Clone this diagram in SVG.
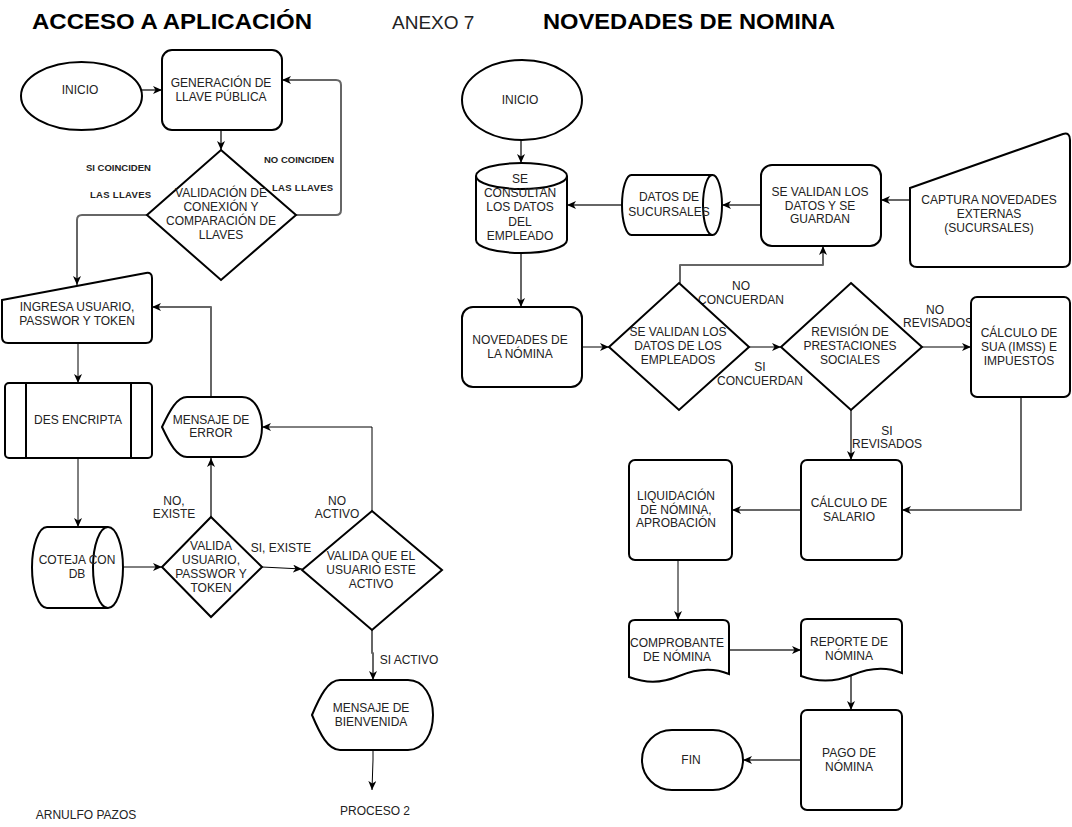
<svg xmlns="http://www.w3.org/2000/svg" width="1072" height="827" viewBox="0 0 1072 827">
<defs>
<marker id="ar" markerUnits="userSpaceOnUse" markerWidth="10" markerHeight="8" refX="9" refY="4" orient="auto">
<path d="M0,0 L9,4 L0,8 L2.5,4 Z" fill="#000"/>
</marker>
</defs>
<style>
.n{fill:#fff;stroke:#000;stroke-width:2;}
.t{font-family:"Liberation Sans",Arial,sans-serif;font-size:12px;fill:#222;text-anchor:middle;}
.l{font-family:"Liberation Sans",Arial,sans-serif;font-size:12px;fill:#222;text-anchor:middle;}
.b{font-family:"Liberation Sans",Arial,sans-serif;font-size:9.5px;font-weight:bold;fill:#222;}
.h{font-family:"Liberation Sans",Arial,sans-serif;font-weight:bold;font-size:22px;fill:#000;}
.c1{fill:none;stroke:#000;stroke-width:1;marker-end:url(#ar);}
.c2{fill:none;stroke:#666;stroke-width:2;stroke-linejoin:round;marker-end:url(#ar);}
</style>
<rect width="1072" height="827" fill="#fff"/>

<g id="titles">
<text class="h" x="32" y="29" textLength="280" lengthAdjust="spacingAndGlyphs">ACCESO A APLICACIÓN</text>
<text x="392" y="29" font-family="Liberation Sans, Arial, sans-serif" font-size="19" fill="#222">ANEXO 7</text>
<text class="h" x="543" y="29" textLength="292" lengthAdjust="spacingAndGlyphs">NOVEDADES DE NOMINA</text>
</g>

<g id="connectors">
<!-- left -->
<path class="c2" d="M142,90 L162,90"/>
<path class="c2" d="M221,130 L221,150"/>
<path class="c2" d="M296,215 L336,215 Q341,215 341,210 L341,85 Q341,80 336,80 L282,80"/>
<path class="c2" d="M147,215 L82,215 Q77,215 77,220 L77,285"/>
<path class="c1" d="M78,343 L78,383"/>
<path class="c1" d="M78,458 L78,527"/>
<path class="c1" d="M123,567 L162,567"/>
<path class="c1" d="M262,567 L302,569"/>
<path class="c2" d="M211,517 L211,458"/>
<path class="c2" d="M211,397 L211,307 L152,307"/>
<path class="c1" d="M372,511 L372,427 L262,427"/>
<path class="c2" d="M372,630 L372,653 L373,653 L373,680"/>
<path class="c1" d="M373,750 L373,760 L372,790"/>
<!-- right -->
<path class="c2" d="M521,140 L521,163"/>
<path class="c2" d="M622,205 L567,205"/>
<path class="c2" d="M761,205 L722,205"/>
<path class="c2" d="M910,200 L881,200"/>
<path class="c2" d="M521,253 L521,307"/>
<path class="c2" d="M680,283 L680,265 L823,265 L823,246"/>
<path class="c1" d="M582,347 L609,347"/>
<path class="c1" d="M749,347 L781,347"/>
<path class="c1" d="M922,347 L971,347"/>
<path class="c2" d="M851,410 L851,460"/>
<path class="c2" d="M1021,397 L1021,510 L902,510"/>
<path class="c2" d="M801,510 L732,510"/>
<path class="c1" d="M678,560 L678,620"/>
<path class="c2" d="M729,650 L801,650"/>
<path class="c2" d="M851,675 L851,710"/>
<path class="c2" d="M801,760 L743,760"/>
</g>

<g id="labels">
<text class="b" x="86" y="171">SI COINCIDEN</text>
<text class="b" x="90" y="198" letter-spacing="0.3">LAS LLAVES</text>
<text class="b" x="264" y="163">NO COINCIDEN</text>
<text class="b" x="272" y="191" letter-spacing="0.3">LAS LLAVES</text>
<text class="l" x="174" y="505">NO,</text>
<text class="l" x="174" y="518">EXISTE</text>
<text class="l" x="337" y="505">NO</text>
<text class="l" x="337" y="518">ACTIVO</text>
<text class="l" x="281" y="552">SI, EXISTE</text>
<text class="l" x="409" y="664">SI ACTIVO</text>
<text class="l" x="375" y="815">PROCESO 2</text>
<text class="l" x="86" y="819">ARNULFO PAZOS</text>
<text class="l" x="741" y="290">NO</text>
<text class="l" x="741" y="304">CONCUERDAN</text>
<text class="l" x="760" y="371">SI</text>
<text class="l" x="760" y="385">CONCUERDAN</text>
<text class="l" x="935" y="314">NO</text>
<text class="l" x="938" y="327">REVISADOS</text>
<text class="l" x="887" y="435">SI</text>
<text class="l" x="887" y="448">REVISADOS</text>
</g>

<!-- LEFT NODES -->
<g id="inicio1">
<ellipse class="n" cx="81.5" cy="96" rx="60.5" ry="34" stroke-width="1"/>
<text class="t" x="80" y="94">INICIO</text>
</g>
<g id="generacion">
<rect class="n" x="162" y="50" width="120" height="80" rx="10"/>
<text class="t" x="221" y="87">GENERACIÓN DE</text>
<text class="t" x="221" y="101">LLAVE PÚBLICA</text>
</g>
<g id="validacion">
<polygon class="n" points="221,150 296,215 221,280 147,215"/>
<text class="t" x="221" y="197">VALIDACIÓN DE</text>
<text class="t" x="221" y="211">CONEXIÓN Y</text>
<text class="t" x="221" y="225">COMPARACIÓN DE</text>
<text class="t" x="221" y="239">LLAVES</text>
</g>
<g id="ingresa">
<path class="n" d="M2,300 L146,273 Q152,272 152,278 L152,337 Q152,343 146,343 L8,343 Q2,343 2,337 Z"/>
<text class="t" x="77" y="311">INGRESA USUARIO,</text>
<text class="t" x="77" y="325">PASSWOR Y TOKEN</text>
</g>
<g id="desencripta">
<rect class="n" x="5" y="383" width="147" height="75" rx="4"/>
<line x1="26" y1="383" x2="26" y2="458" stroke="#000" stroke-width="2"/>
<line x1="131" y1="383" x2="131" y2="458" stroke="#000" stroke-width="2"/>
<text class="t" x="78" y="424">DES ENCRIPTA</text>
</g>
<g id="coteja">
<path class="n" d="M47,527 L108,527 A15,40.5 0 0 1 108,608 L47,608 A15,40.5 0 0 1 47,527 Z"/>
<path d="M108,527 A15,40.5 0 0 0 108,608" fill="none" stroke="#000" stroke-width="2"/>
<text class="t" x="77" y="564">COTEJA CON</text>
<text class="t" x="77" y="578">DB</text>
</g>
<g id="validausuario">
<polygon class="n" points="211,517 262,567 211,617 162,567"/>
<text class="t" x="211" y="550">VALIDA</text>
<text class="t" x="211" y="564">USUARIO,</text>
<text class="t" x="211" y="578">PASSWOR Y</text>
<text class="t" x="211" y="592">TOKEN</text>
</g>
<g id="validaactivo">
<polygon class="n" points="372,511 442,570 372,630 302,570"/>
<text class="t" x="371" y="560">VALIDA QUE EL</text>
<text class="t" x="371" y="574">USUARIO ESTE</text>
<text class="t" x="371" y="588">ACTIVO</text>
</g>
<g id="error">
<path class="n" d="M162,427 C170,410 177,397 187,397 L242,397 C255,397 262,412 262,427 C262,442 255,457 242,457 L187,457 C177,457 170,444 162,427 Z"/>
<text class="t" x="211" y="424">MENSAJE DE</text>
<text class="t" x="211" y="437">ERROR</text>
</g>
<g id="bienvenida">
<path class="n" d="M312,715 C320,696 328,680 340,680 L408,680 C424,680 433,697 433,715 C433,733 424,750 408,750 L340,750 C328,750 320,734 312,715 Z"/>
<text class="t" x="371" y="712">MENSAJE DE</text>
<text class="t" x="371" y="726">BIENVENIDA</text>
</g>

<!-- RIGHT NODES -->
<g id="inicio2">
<ellipse class="n" cx="522" cy="100" rx="60" ry="40" stroke-width="1"/>
<text class="t" x="520" y="104">INICIO</text>
</g>
<g id="consultan">
<path class="n" d="M476,176 A45.5,13 0 0 1 567,176 L567,240 A45.5,13 0 0 1 476,240 Z"/>
<path d="M476,176 A45.5,13 0 0 0 567,176" fill="none" stroke="#000" stroke-width="2"/>
<text class="t" x="520" y="183">SE</text>
<text class="t" x="520" y="197">CONSULTAN</text>
<text class="t" x="520" y="211">LOS DATOS</text>
<text class="t" x="520" y="226">DEL</text>
<text class="t" x="520" y="240">EMPLEADO</text>
</g>
<g id="sucursales">
<path class="n" d="M631.5,175 L712.5,175 A9.5,30 0 0 1 712.5,235 L631.5,235 A9.5,30 0 0 1 631.5,175 Z"/>
<path d="M712.5,175 A9.5,30 0 0 0 712.5,235" fill="none" stroke="#000" stroke-width="2"/>
<text class="t" x="669" y="201">DATOS DE</text>
<text class="t" x="669" y="216">SUCURSALES</text>
</g>
<g id="sevalidan">
<rect class="n" x="761" y="165" width="120" height="81" rx="11" stroke-width="1.5"/>
<text class="t" x="820" y="196">SE VALIDAN LOS</text>
<text class="t" x="820" y="210">DATOS Y SE</text>
<text class="t" x="820" y="223">GUARDAN</text>
</g>
<g id="captura">
<path class="n" d="M910,188 L1063,134 Q1070,132 1070,140 L1070,260 Q1070,267 1063,267 L917,267 Q910,267 910,260 Z"/>
<text class="t" x="989" y="204">CAPTURA NOVEDADES</text>
<text class="t" x="989" y="218">EXTERNAS</text>
<text class="t" x="989" y="232">(SUCURSALES)</text>
</g>
<g id="novedades">
<rect class="n" x="462" y="307" width="120" height="80" rx="11" stroke-width="1.5"/>
<text class="t" x="520" y="344">NOVEDADES DE</text>
<text class="t" x="520" y="358">LA NÓMINA</text>
</g>
<g id="validanempleados">
<polygon class="n" points="679,283 749,347 679,410 609,347"/>
<text class="t" x="678" y="336">SE VALIDAN LOS</text>
<text class="t" x="678" y="350">DATOS DE LOS</text>
<text class="t" x="678" y="364">EMPLEADOS</text>
</g>
<g id="revision">
<polygon class="n" points="851,283 922,347 851,410 781,347"/>
<text class="t" x="850" y="336">REVISIÓN DE</text>
<text class="t" x="850" y="350">PRESTACIONES</text>
<text class="t" x="850" y="364">SOCIALES</text>
</g>
<g id="sua">
<rect class="n" x="971" y="297" width="99" height="100" rx="6"/>
<text class="t" x="1019" y="337">CÁLCULO DE</text>
<text class="t" x="1019" y="351">SUA (IMSS) E</text>
<text class="t" x="1019" y="365">IMPUESTOS</text>
</g>
<g id="salario">
<rect class="n" x="801" y="460" width="101" height="100" rx="6"/>
<text class="t" x="849" y="507">CÁLCULO DE</text>
<text class="t" x="849" y="521">SALARIO</text>
</g>
<g id="liquidacion">
<rect class="n" x="629" y="460" width="103" height="100" rx="6"/>
<text class="t" x="676" y="500">LIQUIDACIÓN</text>
<text class="t" x="676" y="514">DE NÓMINA,</text>
<text class="t" x="676" y="527">APROBACIÓN</text>
</g>
<g id="comprobante">
<path class="n" d="M635,620 L723,620 Q729,620 729,626 L729,674 C715,668 698,668 679,676 C660,684 645,683 629,677 L629,626 Q629,620 635,620 Z"/>
<text class="t" x="677" y="647">COMPROBANTE</text>
<text class="t" x="677" y="661">DE NÓMINA</text>
</g>
<g id="reporte">
<path class="n" d="M807,619 L896,619 Q902,619 902,625 L902,673 C888,667 871,667 852,675 C833,683 817,682 801,676 L801,625 Q801,619 807,619 Z"/>
<text class="t" x="849" y="646">REPORTE DE</text>
<text class="t" x="849" y="660">NÓMINA</text>
</g>
<g id="pago">
<rect class="n" x="801" y="710" width="101" height="100" rx="6"/>
<text class="t" x="849" y="757">PAGO DE</text>
<text class="t" x="849" y="771">NÓMINA</text>
</g>
<g id="fin">
<rect class="n" x="642" y="730" width="101" height="60" rx="30"/>
<text class="t" x="691" y="764">FIN</text>
</g>
</svg>
